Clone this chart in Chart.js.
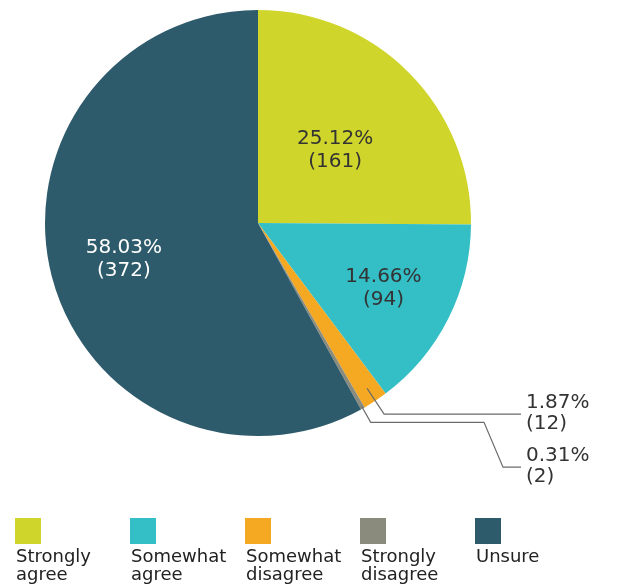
<!DOCTYPE html>
<html>
<head>
<meta charset="utf-8">
<script src="https://cdn.jsdelivr.net/npm/chart.js@4"></script>
<style>
  html, body { margin: 0; padding: 0; background: #fff; }
  canvas { display: block; }
</style>
</head>
<body>
<canvas id="pieChart" width="624" height="586"></canvas>
<script>
const categories = ['Strongly agree', 'Somewhat agree', 'Somewhat disagree', 'Strongly disagree', 'Unsure'];
const counts = [161, 94, 12, 2, 372];
const colors = ['#cfd52b', '#34bec5', '#f5a922', '#8b8b7d', '#2e5b6b'];

const FONT = '"DejaVu Sans", Verdana, sans-serif';

// labels inside / outside the slices
const sliceLabels = {
    id: 'sliceLabels',
    afterDatasetsDraw(chart) {
        const ctx = chart.ctx;
        const meta = chart.getDatasetMeta(0);
        const total = counts.reduce((a, b) => a + b, 0);
        const insideFactor = [0.51, 0.66, 0, 0, 0.65];
        let lastY = -Infinity;
        ctx.save();
        ctx.font = '20px ' + FONT;
        ctx.textBaseline = 'middle';
        meta.data.forEach((arc, i) => {
            const pct = (counts[i] / total * 100).toFixed(2) + '%';
            const cnt = '(' + counts[i] + ')';
            const mid = (arc.startAngle + arc.endAngle) / 2;
            const r = arc.outerRadius;
            if (counts[i] / total > 0.05) {
                const x = arc.x + Math.cos(mid) * r * insideFactor[i];
                const y = arc.y + Math.sin(mid) * r * insideFactor[i];
                ctx.fillStyle = i === 4 ? '#ffffff' : '#333333';
                ctx.textAlign = 'center';
                const dy = i === 0 ? 2 : 0;
                ctx.fillText(pct, x, y - 10 + dy);
                ctx.fillText(cnt, x, y + 13 + dy);
            } else {
                const f0 = i === 2 ? 0.93 : 0.99;
                const x0 = arc.x + Math.cos(mid) * r * f0;
                const y0 = arc.y + Math.sin(mid) * r * f0;
                const x1 = arc.x + Math.cos(mid) * r * 1.075;
                const y1 = arc.y + Math.sin(mid) * r * 1.075;
                const labelX = 525;
                const labelY = Math.max(y1, lastY + 53);
                lastY = labelY;
                ctx.strokeStyle = '#6b6b6b';
                ctx.lineWidth = 1.2;
                ctx.beginPath();
                ctx.moveTo(x0, y0);
                ctx.lineTo(x1, y1);
                if (labelY > y1 + 1) {
                    ctx.lineTo(labelX - 41, y1);
                    ctx.lineTo(labelX - 22, labelY);
                }
                ctx.lineTo(labelX - 4, labelY);
                ctx.stroke();
                ctx.fillStyle = '#333333';
                ctx.textAlign = 'left';
                ctx.fillText(pct, labelX + 1, labelY - 11);
                ctx.fillText(cnt, labelX + 1, labelY + 10);
            }
        });
        ctx.restore();
    }
};

// legend under the pie: box on top, wrapped text below
const bottomLegend = {
    id: 'bottomLegend',
    afterDraw(chart) {
        const ctx = chart.ctx;
        ctx.save();
        ctx.font = '18px ' + FONT;
        ctx.textAlign = 'left';
        ctx.textBaseline = 'alphabetic';
        categories.forEach((name, i) => {
            const x = 15 + i * 115;
            ctx.fillStyle = colors[i];
            ctx.fillRect(x, 518, 26, 26);
            ctx.fillStyle = '#222222';
            name.split(' ').forEach((word, j) => {
                ctx.fillText(word, x + 1, 562 + j * 18);
            });
        });
        ctx.restore();
    }
};

const ctx = document.getElementById('pieChart').getContext('2d');
new Chart(ctx, {
    type: 'pie',
    data: {
        labels: categories,
        datasets: [{
            data: counts,
            backgroundColor: colors,
            borderWidth: 0,
            hoverOffset: 0
        }]
    },
    options: {
        responsive: false,
        animation: false,
        layout: {
            padding: {left: 45, right: 153, top: 10, bottom: 150}
        },
        plugins: {
            legend: {display: false},
            tooltip: {enabled: false}
        }
    },
    plugins: [sliceLabels, bottomLegend]
});
</script>
</body>
</html>
